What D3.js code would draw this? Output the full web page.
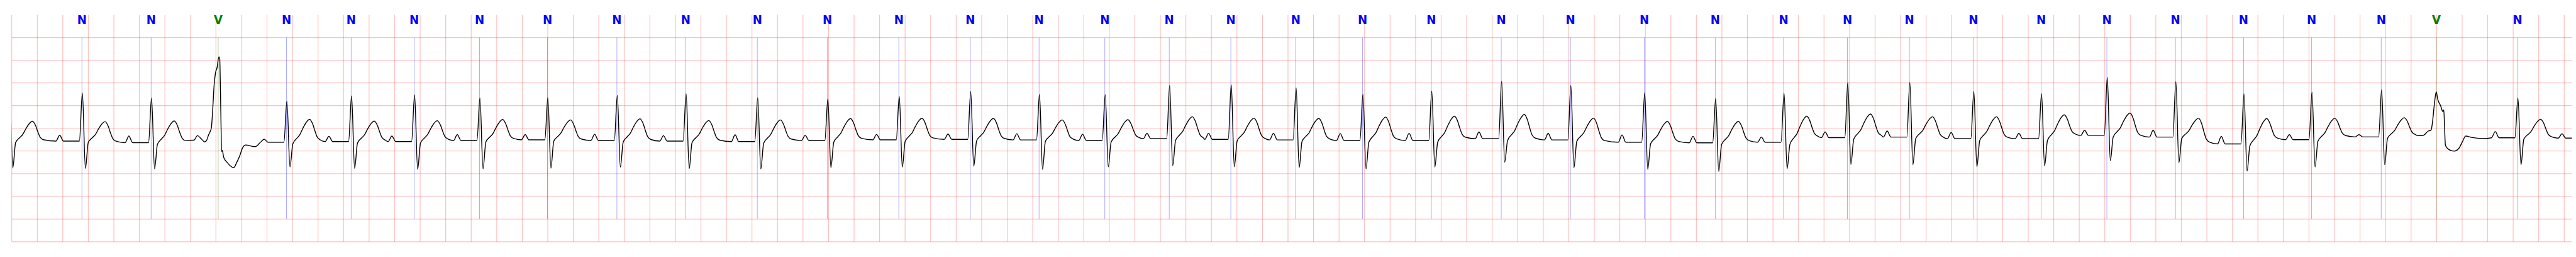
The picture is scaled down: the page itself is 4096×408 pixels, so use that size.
<!DOCTYPE html>
<html>
<head>
<meta charset="utf-8">
<script src="https://cdn.jsdelivr.net/npm/d3@7"></script>
<style>
  html, body { margin: 0; padding: 0; background: #fff; overflow: hidden; }
  svg { display: block; }
</style>
</head>
<body>
<svg id="chart" width="4096" height="408"></svg>
<script>
// ---------------- DATA ----------------
// Beat annotations (seconds, label)
const annTimes = [0.5501, 1.0921, 1.6178, 2.1528, 2.6595, 3.1532, 3.6655, 4.1975, 4.7417, 5.2808,
  5.8421, 6.3914, 6.9509, 7.5107, 8.0497, 8.5647, 9.0697, 9.5522, 10.0604, 10.5842,
  11.1233, 11.6709, 12.2132, 12.7918, 13.3480, 13.8836, 14.3833, 14.8692, 15.3707, 15.9012,
  16.4164, 16.9536, 17.4876, 18.0205, 18.5660, 18.9980, 19.6340];
const annLabels = ["N","N","V","N","N","N","N","N","N","N",
  "N","N","N","N","N","N","N","N","N","N",
  "N","N","N","N","N","N","N","N","N","N",
  "N","N","N","N","N","V","N"];

// Beats that make up the trace (one partial beat before and one after the strip)
const beatTimes = [-0.019, ...annTimes, 20.157];
const beatTypes = ["N", ...annLabels, "N"];
// amplitudes in mV (null for V beats, drawn from their own shapes)
const rAmp = [1.20, 1.282, 1.171, null, 1.100, 1.214, 1.239, 1.171, 1.174, 1.227, 1.264,
  1.174, 1.146, 1.208, 1.310, 1.249, 1.244, 1.446, 1.461, 1.395, 1.254,
  1.319, 1.536, 1.446, 1.282, 1.156, 1.276, 1.511, 1.511, 1.314, 1.264,
  1.624, 1.529, 1.259, 1.300, 1.350, null, 1.168, 1.20];
const sAmp = [-0.374, -0.387, -0.394, null, -0.352, -0.385, -0.405, -0.393, -0.378, -0.355, -0.390,
  -0.397, -0.367, -0.355, -0.335, -0.403, -0.347, -0.322, -0.347, -0.367, -0.393,
  -0.355, -0.246, -0.372, -0.405, -0.448, -0.390, -0.297, -0.302, -0.347, -0.329,
  -0.214, -0.259, -0.443, -0.350, -0.304, null, -0.304, -0.38];
const tAmp = [0.655, 0.647, 0.662, null, 0.698, 0.660, 0.668, 0.693, 0.685, 0.710, 0.672,
  0.685, 0.715, 0.721, 0.718, 0.685, 0.690, 0.755, 0.723, 0.718, 0.748,
  0.766, 0.804, 0.723, 0.653, 0.653, 0.766, 0.816, 0.755, 0.755, 0.798,
  0.836, 0.723, 0.715, 0.720, 0.734, null, 0.698, 0.70];
const pAmp = [0.33, 0.347, 0.330, null, 0.260, 0.322, 0.330, 0.360, 0.360, 0.370, 0.338,
  0.358, 0.345, 0.366, 0.375, 0.380, 0.370, 0.388, 0.390, 0.390, 0.383,
  0.390, 0.421, 0.388, 0.353, 0.325, 0.307, 0.421, 0.441, 0.408, 0.388,
  0.458, 0.458, 0.322, 0.360, 0.360, null, 0.428, 0.380];
const baseAmp = [0.220, 0.219, 0.184, 0.202, 0.194, 0.209, 0.209, 0.232, 0.247, 0.232, 0.219,
  0.207, 0.232, 0.247, 0.257, 0.245, 0.232, 0.270, 0.257, 0.245, 0.232,
  0.232, 0.270, 0.245, 0.194, 0.181, 0.194, 0.295, 0.307, 0.270, 0.270,
  0.345, 0.307, 0.156, 0.250, 0.311, 0.337, 0.292, 0.285];

// Normal-beat waveform landmarks: offset from annotation (s), reference, weight
const nTemplateDx = [-0.2039, -0.1744, -0.1449, -0.0201, 0.0032, 0.0271, 0.0494, 0.0816,
  0.1041, 0.1299, 0.1556, 0.1809, 0.2066, 0.2238, 0.2410, 0.2667];
const nTemplateRef = ["base","P","base","base","R","S","up","up","up","up","up","T","down","down","down","down"];
const nTemplateW = [0, 0, 0, 0, 0, 0, -0.075, 0.175, 0.325, 0.625, 0.875, 1, 0.77, 0.46, 0.2, 0.07];

// Ventricular beats traced point by point: [offset s, mV]
const vBeat1 = [[-0.1905,0.239],[-0.1629,0.338],[-0.1288,0.257],[-0.1073,0.202],[-0.0939,0.221],
  [-0.0738,0.368],[-0.0644,0.421],[-0.0537,0.511],[-0.0456,0.798],[-0.0322,1.448],
  [-0.0188,1.757],[-0.0107,1.818],[0.0054,2.075],[0.0121,2.029],[0.0161,1.516],
  [0.0201,0.912],[0.0268,-0.010],[0.0322,0.013],[0.0429,-0.138],[0.0698,-0.252],
  [0.1221,-0.365],[0.1449,-0.252],[0.1717,-0.085],[0.1865,0.043],[0.2136,0.131],[0.2898,0.096]];
const vBeat2 = [[-0.1449,0.338],[-0.1009,0.347],[-0.0652,0.437],[-0.0411,0.463],[-0.0295,0.655],
  [-0.0161,1.017],[-0.0008,1.304],[0.0107,1.142],[0.0333,0.998],[0.0510,0.870],
  [0.0582,0.907],[0.0644,0.511],[0.0708,0.131],[0.0869,0.058],[0.1138,0.013],
  [0.1406,-0.002],[0.1763,0.058],[0.2031,0.199],[0.2300,0.330],[0.2748,0.300],[0.3641,0.275]];
const vBeats = [vBeat1, vBeat2];

// Axes ticks (grid)
const timeTicks = d3.range(0, 20.0001, 0.2);
const mvTicks = d3.range(-2, 2.5001, 0.5);
const labelColors = { N: "#0000ff", V: "#008000" };

// ---------------- DRAW ----------------
const W = 7522, H = 750;
const svg = d3.select("#chart")
  .attr("viewBox", `0 0 ${W} ${H}`)
  .attr("preserveAspectRatio", "none");
svg.append("rect").attr("width", W).attr("height", H).attr("fill", "#fff");

const x = d3.scaleLinear().domain([0, 20.06]).range([34.3, 7510]);
const y = d3.scaleLinear().domain([-2, 3]).range([705.5, 43.5]);

// grid
const grid = svg.append("g").attr("stroke", "#ff0000").attr("stroke-opacity", 0.25).attr("stroke-width", 2.2);
grid.selectAll("line.v").data(timeTicks).join("line")
  .attr("x1", d => x(d)).attr("x2", d => x(d))
  .attr("y1", y(3)).attr("y2", y(-2));
grid.selectAll("line.h").data(mvTicks).join("line")
  .attr("x1", x(0)).attr("x2", x(20.06))
  .attr("y1", d => y(d)).attr("y2", d => y(d));

// annotation lines
svg.append("g").selectAll("line").data(annTimes).join("line")
  .attr("x1", d => x(d)).attr("x2", d => x(d))
  .attr("y1", y(2.5)).attr("y2", y(-1.5))
  .attr("stroke", (d, i) => labelColors[annLabels[i]])
  .attr("stroke-opacity", 0.5)
  .attr("stroke-width", 1.2);

// build the trace
const pts = [];
let vi = 0;
beatTimes.forEach((t0, i) => {
  if (beatTypes[i] === "V") {
    vBeats[vi++].forEach(([dx, v]) => pts.push([t0 + dx, v]));
    return;
  }
  const b = baseAmp[i];
  const nb = i + 1 < baseAmp.length ? baseAmp[i + 1] : b;
  const T = tAmp[i];
  nTemplateDx.forEach((dx, k) => {
    const ref = nTemplateRef[k], w = nTemplateW[k];
    let v;
    if (ref === "base") v = b;
    else if (ref === "P") v = pAmp[i];
    else if (ref === "R") v = rAmp[i];
    else if (ref === "S") v = sAmp[i];
    else if (ref === "T") v = T;
    else if (ref === "up") v = b + w * (T - b);
    else v = nb + w * (T - nb);
    pts.push([t0 + dx, v]);
  });
});
const trace = [];
pts.forEach(p => { if (!trace.length || p[0] > trace[trace.length - 1][0]) trace.push(p); });

svg.append("clipPath").attr("id", "plotclip").append("rect")
  .attr("x", x(0)).attr("y", 0).attr("width", x(20.06) - x(0)).attr("height", H);

const line = d3.line().x(d => x(d[0])).y(d => y(d[1])).curve(d3.curveMonotoneX);
svg.append("path")
  .attr("clip-path", "url(#plotclip)")
  .attr("d", line(trace))
  .attr("fill", "none")
  .attr("stroke", "#000")
  .attr("stroke-width", 2.6)
  .attr("stroke-linejoin", "round");

// labels
svg.append("g").selectAll("text").data(annTimes).join("text")
  .attr("x", d => x(d))
  .attr("y", 70.7)
  .attr("text-anchor", "middle")
  .attr("font-family", "'Liberation Sans Narrow', 'DejaVu Sans Condensed', 'Liberation Sans', sans-serif")
  .attr("font-weight", "bold")
  .attr("font-size", 37)
  .attr("fill", (d, i) => labelColors[annLabels[i]])
  .text((d, i) => annLabels[i]);
</script>
</body>
</html>
